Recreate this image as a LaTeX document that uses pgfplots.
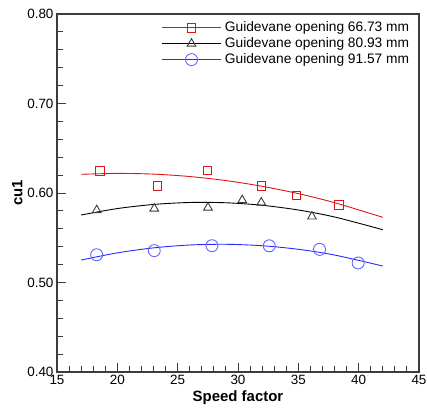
\documentclass[border=0pt]{standalone}
\usepackage{pgfplots}
\pgfplotsset{compat=1.18}
\usepackage{fontspec}
\setmainfont{Liberation Sans}
\definecolor{myred}{RGB}{225,20,20}
\definecolor{myblue}{RGB}{40,40,255}
\definecolor{mycirc}{RGB}{100,100,255}
\definecolor{axgray}{RGB}{60,60,60}
\begin{document}
\begin{tikzpicture}
\begin{axis}[
  name=ax,
  scale only axis,
  width=362bp, height=358bp,
  xmin=15, xmax=45, ymin=0.40, ymax=0.80,
  xtick={15,20,...,45},
  ytick={0.40,0.50,0.60,0.70,0.80},
  minor x tick num=4, minor y tick num=4,
  tick align=inside,
  xtick pos=left, ytick pos=left,
  major tick length=9bp, minor tick length=6bp,
  axis line style={axgray, line width=1.1pt},
  every tick/.style={axgray, line width=0.9pt},
  yticklabel style={/pgf/number format/fixed,/pgf/number format/precision=2,/pgf/number format/fixed zerofill},
  /pgf/number format/assume math mode=true,
  tick label style={font=\fontsize{13.5}{15}\selectfont},
  xlabel={\textbf{Speed factor}},
  ylabel={\textbf{cu1}},
  label style={font=\fontsize{15}{17}\selectfont},
  xlabel style={yshift=1bp},
  ylabel style={yshift=-2bp},
  legend style={draw=none, fill=none, at={(0.28,0.988)}, anchor=north west,
    font=\fontsize{13.8}{15}\selectfont, row sep=1.5bp,
    nodes={inner sep=1.5bp, inner xsep=3.5bp}},
  legend cell align=left,
  legend image code/.code={\draw[mark repeat=2,mark phase=2] plot coordinates {(0bp,0bp) (29.5bp,0bp) (59bp,0bp)};},
]
% fitted curves
\addplot[myred, line width=0.9pt, smooth, mark=square, mark size=4.3bp, mark options={solid, line width=0.9pt, fill=none}, mark repeat=100, mark phase=200] coordinates {
(17,0.6209)(20,0.6219)(23,0.6211)(26,0.6184)(29,0.6139)(32,0.6075)(35,0.5993)(38,0.5892)(42,0.5728)};
\addlegendentry{Guidevane opening 66.73 mm}
\addplot[black, line width=0.9pt, smooth, mark=triangle, mark size=5bp, mark options={solid, line width=0.9pt, fill=none, draw=axgray}, mark repeat=100, mark phase=200] coordinates {
(17,0.5754)(20,0.5826)(23,0.5872)(26,0.5894)(29,0.5891)(32,0.5863)(35,0.5810)(38,0.5732)(42,0.5590)};
\addlegendentry{Guidevane opening 80.93 mm}
\addplot[myblue, line width=0.9pt, smooth, mark=o, mark size=6bp, mark options={solid, line width=0.9pt, fill=none, draw=mycirc}, mark repeat=100, mark phase=200] coordinates {
(17,0.5251)(20,0.5331)(23,0.5387)(26,0.5419)(29,0.5427)(32,0.5411)(35,0.5371)(38,0.5307)(42,0.5184)};
\addlegendentry{Guidevane opening 91.57 mm}
% data points
\addplot[only marks, forget plot, mark=square, mark size=4.3bp, mark options={myred, line width=0.9pt}] coordinates {
(18.56,0.6249)(23.34,0.6078)(27.48,0.6250)(31.93,0.6080)(34.83,0.5974)(38.39,0.5866)};
\addplot[only marks, forget plot, mark=triangle, mark size=5bp, mark options={axgray, line width=0.9pt}] coordinates {
(18.29,0.5808)(23.06,0.5826)(27.51,0.5837)(30.35,0.5920)(31.93,0.5893)(36.13,0.5737)};
\addplot[only marks, forget plot, mark=o, mark size=6bp, mark options={mycirc, line width=0.9pt}] coordinates {
(18.29,0.5310)(23.06,0.5356)(27.84,0.5411)(32.59,0.5410)(36.76,0.5370)(39.96,0.5218)};
\end{axis}
\pgfresetboundingbox
\useasboundingbox ([shift={(-57bp,-36bp)}]ax.south west) rectangle ([shift={(8bp,14bp)}]ax.north east);
\end{tikzpicture}
\end{document}
